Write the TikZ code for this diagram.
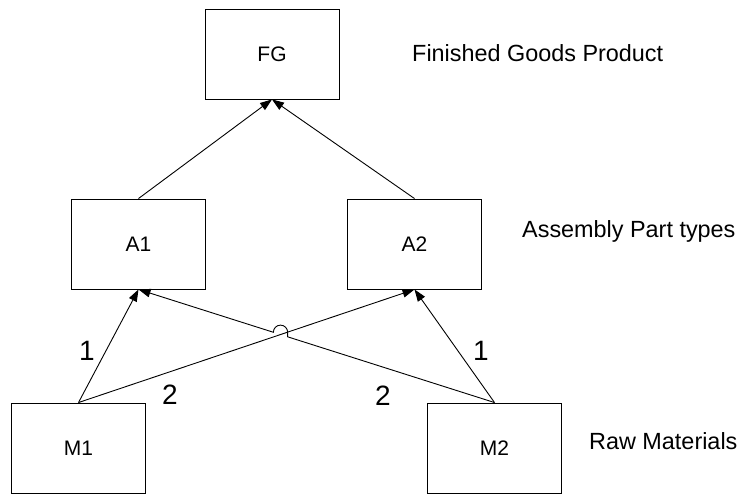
\documentclass[tikz,border=0pt]{standalone}
\usepackage{fontspec}
\setmainfont{Liberation Sans}
\usetikzlibrary{arrows.meta,calc}

\begin{document}
\begin{tikzpicture}[x=1pt,y=1pt,
    box/.style={draw=black,line width=0.9pt,minimum width=134pt,minimum height=90pt,inner sep=0pt,
                font=\fontsize{21}{24}\selectfont},
    link/.style={draw=black,line width=0.9pt,-{Triangle[length=12pt,width=8.5pt]}},
    qty/.style={font=\fontsize{28}{32}\selectfont,inner sep=0pt},
    tier/.style={font=\fontsize{23.4}{28}\selectfont,inner sep=0pt,anchor=base west}]
  \useasboundingbox (0,0) rectangle (742,494);

  % bill of materials: product, assemblies, raw materials
  \node[box] (FG) at (272,440) {FG};
  \node[box] (A1) at (138.5,250) {A1};
  \node[box] (A2) at (414.5,250) {A2};
  \node[box] (M1) at (78.5,46) {M1};
  \node[box] (M2) at (494.5,46) {M2};

  % tier captions
  \node[tier] (tFG) at (412,432) {Finished Goods Product};
  \node[tier] (tA) at (522,256) {Assembly Part types};
  \node[tier] (tM) at (589,44) {Raw Materials};

  % assemblies into the finished good
  \draw[link] (A1.north) -- (FG.south);
  \draw[link] (A2.north) -- (FG.south);

  % raw materials into assemblies
  \draw[link] (M1.north) -- (A1.south);
  \draw[link] (M1.north) -- (A2.south);
  \draw[link] (M2.north) -- (A2.south);

  % M2 -> A1 hops over the M1 -> A2 line
  \coordinate (X) at (intersection of M1.north--A2.south and M2.north--A1.south);
  \coordinate (Jl) at ($(X)!7.5pt!(A1.south)$);
  \coordinate (Jr) at ($(X)!7.5pt!(M2.north)$);
  \draw[link] let \p1=(Jl), \p2=(Jr) in
    (M2.north) -- (Jr) -- (\x2,\y1)
    arc[start angle=0,end angle=180,radius={(\x2-\x1)/2}]
    -- (A1.south);

  % quantities
  \node[qty] (q1) at (87,143) {1};
  \node[qty] (q2) at (170,99) {2};
  \node[qty] (q3) at (383,98) {2};
  \node[qty] (q4) at (481,143) {1};
\end{tikzpicture}
\end{document}
